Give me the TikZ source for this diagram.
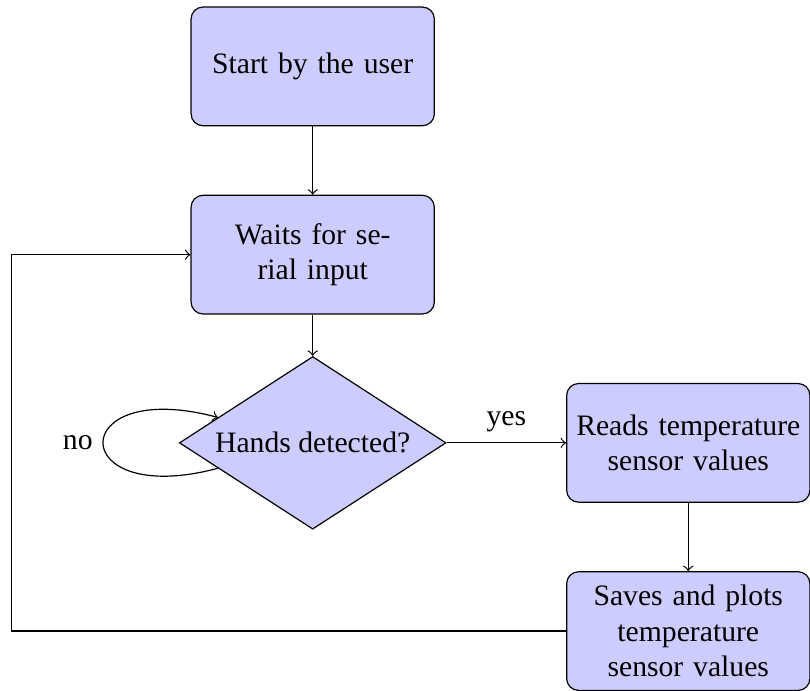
\documentclass[tikz,border=0pt]{standalone}
\usepackage{fontspec}
\setmainfont{Liberation Serif}
\usetikzlibrary{shapes.geometric}
\definecolor{boxfill}{RGB}{204,204,255}

\begin{document}
\begin{tikzpicture}[
  block/.style={rectangle, draw, fill=boxfill, text width=8em, inner sep=1pt,
                align=center, rounded corners, minimum height=4em},
  decision/.style={diamond, draw, fill=boxfill, aspect=1.55, inner sep=0pt,
                   minimum width=89.9pt, minimum height=58.2pt},
  line/.style={draw, ->}]
\useasboundingbox (-3.705,0.787) rectangle (5.892,-7.40);
% Main column
\node[block] (init) at (0,0) {Start by the user};
\node[block] (wait) at (0,-2.23) {Waits for se-\\rial input};
\node[decision] (decide) at (0,-4.46) {Hands detected?};
% Right column
\node[block] (read) at (4.45,-4.46) {Reads temperature\\sensor values};
\node[block] (save) at (4.45,-6.69) {Saves and plots\\temperature\\sensor values};
\coordinate (back) at (-3.57,-2.23);
% Connectors
\draw[line] (init) -- (wait);
\draw[line] (wait) -- (decide);
\draw[line] (decide) -- node[above] {yes} (read);
\draw[line] (decide) to[loop left] node[left] {no} (decide);
\draw[line] (read) -- (save);
\draw[line] (save.west) -| (back) -- (wait.west);
\end{tikzpicture}
\end{document}
